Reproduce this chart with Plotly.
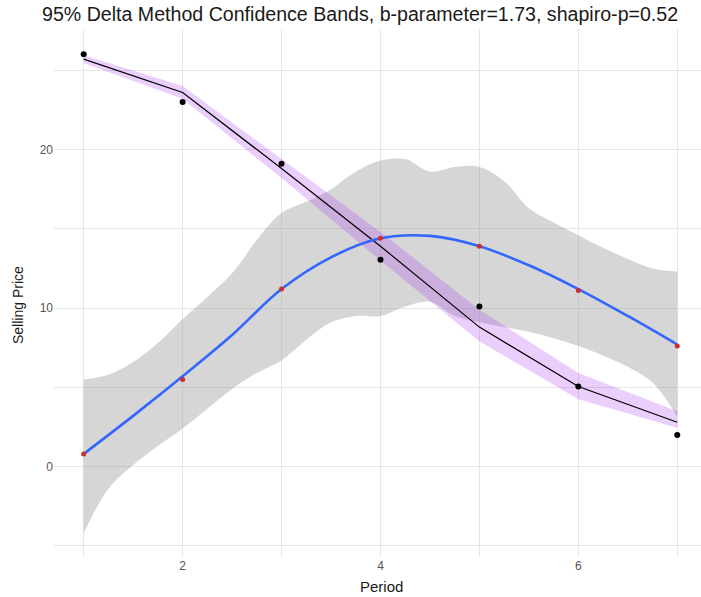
import plotly.graph_objects as go

# ---- data ----
period = [1, 2, 3, 4, 5, 6, 7]
price_a = [26.0, 23.0, 19.1, 13.05, 10.1, 5.05, 2.0]      # black points
price_b = [0.8, 5.5, 11.2, 14.4, 13.9, 11.1, 7.6]         # red points

# delta-method fitted curve and 95% band (purple)
fit_a = [25.7, 23.6, 18.8, 13.9, 8.8, 5.05, 2.8]
fit_a_upper = [25.95, 24.0, 19.4, 14.8, 9.9, 5.9, 3.5]
fit_a_lower = [25.45, 23.2, 18.2, 13.0, 7.9, 4.25, 2.45]

# loess smooth (blue) and its band (gray)
smooth_x = [1, 1.5, 2, 2.5, 3, 3.5, 4, 4.5, 5, 5.5, 6, 6.5, 7]
smooth_y = [0.8, 3.2, 5.7, 8.3, 11.2, 13.2, 14.4, 14.55, 13.9, 12.7, 11.2, 9.5, 7.7]

band_x = [1, 1.25, 1.5, 1.75, 2, 2.5, 2.75, 3, 3.25, 3.5, 3.75, 4, 4.25, 4.5, 4.75, 5, 5.25, 5.5, 5.75, 6, 6.25, 6.5, 6.75, 7]
band_upper = [5.5, 5.8, 6.6, 7.8, 9.3, 12.2, 14.3, 16.0, 16.7, 17.5, 18.6, 19.3, 19.4, 18.6, 18.9, 18.9, 18.0, 16.3, 15.4, 14.6, 13.8, 13.1, 12.5, 12.3]
band_lower = [-4.2, -1.4, 0.1, 1.3, 2.4, 4.9, 5.9, 6.7, 8.0, 9.1, 9.5, 9.5, 10.1, 10.4, 9.5, 9.1, 8.8, 8.5, 8.1, 7.6, 7.0, 6.3, 5.3, 3.15]

title_text = "95% Delta Method Confidence Bands, b-parameter=1.73, shapiro-p=0.52"
x_title = "Period"
y_title = "Selling Price"

fig = go.Figure()

# gray loess band (lower edge, then upper edge filled to it)
fig.add_trace(go.Scatter(x=band_x, y=band_lower, mode="lines", line_shape="spline",
                         line=dict(width=0, color="rgba(0,0,0,0)"),
                         hoverinfo="skip", showlegend=False))
fig.add_trace(go.Scatter(x=band_x, y=band_upper, mode="lines", line_shape="spline",
                         line=dict(width=0, color="rgba(0,0,0,0)"),
                         fill="tonexty", fillcolor="rgba(153,153,153,0.4)",
                         hoverinfo="skip", showlegend=False))
# purple delta band
fig.add_trace(go.Scatter(x=period + period[::-1], y=fit_a_upper + fit_a_lower[::-1],
                         fill="toself", fillcolor="rgba(160,32,240,0.22)",
                         line=dict(width=0), mode="lines", hoverinfo="skip", showlegend=False))
# fitted line
fig.add_trace(go.Scatter(x=period, y=fit_a, mode="lines",
                         line=dict(color="black", width=1.2), showlegend=False))
# loess line
fig.add_trace(go.Scatter(x=smooth_x, y=smooth_y, mode="lines", line_shape="spline",
                         line=dict(color="#3366FF", width=2.6), showlegend=False))
# points
fig.add_trace(go.Scatter(x=period, y=price_a, mode="markers",
                         marker=dict(color="black", size=6), showlegend=False))
fig.add_trace(go.Scatter(x=period, y=price_b, mode="markers",
                         marker=dict(color="#CC2E2E", size=5), showlegend=False))

grid = "#E6E6E6"
L, R, T, B = 54, 0, 29, 40
W, H = 701, 597
pw, ph = W - L - R, H - T - B

fig.update_layout(
    width=W, height=H, autosize=False,
    margin=dict(l=L, r=R, t=T, b=B, autoexpand=False),
    paper_bgcolor="white", plot_bgcolor="white",
    font=dict(family="Liberation Sans, Arial, sans-serif"),
    title=dict(text=title_text, xref="container", yref="container",
               x=42 / W, xanchor="left", y=1 - 14 / H, yanchor="middle",
               automargin=False,
               font=dict(size=19.6, color="#1A1A1A")),
    xaxis=dict(range=[0.7, 7.24], tickvals=[2, 4, 6], ticktext=["2", "4", "6"],
               showgrid=True, gridcolor=grid, gridwidth=1, zeroline=False,
               showline=False, ticks="", automargin=False,
               minor=dict(tickvals=[1, 3, 5, 7], showgrid=True, gridcolor=grid, gridwidth=1),
               tickfont=dict(size=12, color="#555555")),
    yaxis=dict(range=[-5.7, 27.6], tickvals=[0, 10, 20], ticktext=["0", "10", "20"],
               showgrid=True, gridcolor=grid, gridwidth=1, zeroline=False,
               showline=False, ticks="", automargin=False,
               minor=dict(tickvals=[-5, 5, 15, 25], showgrid=True, gridcolor=grid, gridwidth=1),
               tickfont=dict(size=12, color="#555555")),
    annotations=[
        dict(text=x_title, xref="paper", yref="paper",
             x=(381 - L) / pw, y=(H - B - 586) / ph, xanchor="center", yanchor="middle",
             showarrow=False, font=dict(size=15, color="#1A1A1A")),
        dict(text=y_title, xref="paper", yref="paper", textangle=-90,
             x=(18 - L) / pw, y=(H - B - 305) / ph, xanchor="center", yanchor="middle",
             showarrow=False, font=dict(size=14, color="#1A1A1A")),
    ],
)

fig.write_html("out.html", config={"displayModeBar": False},
               post_script="document.body.style.margin='0px';document.body.style.overflow='hidden';")
